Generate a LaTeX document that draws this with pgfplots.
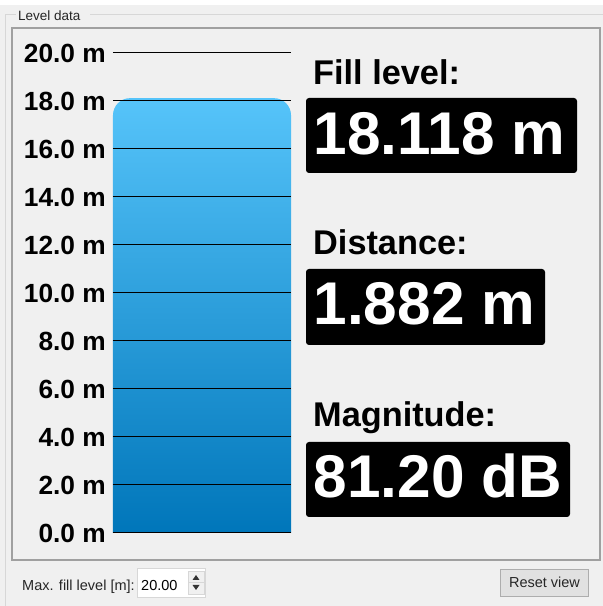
\documentclass[border=0pt]{standalone}
\usepackage{fontspec}
\setmainfont{Liberation Sans}
\usepackage{pgfplots}
\pgfplotsset{compat=1.18}
\definecolor{bg}{RGB}{240,240,240}
\definecolor{bartop}{RGB}{86,196,250}
\definecolor{barbot}{RGB}{0,118,186}
\definecolor{framegray}{RGB}{160,160,160}
\definecolor{lightline}{RGB}{215,215,215}
\begin{document}
\begin{tikzpicture}[x=1pt,y=1pt]
\useasboundingbox (0,0) rectangle (603,606);
\fill[bg] (0,0) rectangle (603,606);
\fill[white] (0,601) rectangle (603,606);
% outer group box
\draw[lightline, line width=1] (5,0) -- (5,591) -- (16,591);
\draw[lightline, line width=1] (90,591) -- (603,591);
\node[anchor=base west, inner sep=0, font=\fontsize{13.5}{15}\selectfont, text=black!85] at (18,585) {Level data};
% inner frame
\draw[framegray, line width=1.3] (12,46) rectangle (600,578);

\begin{axis}[
  at={(113pt,73pt)}, anchor=south west,
  scale only axis, width=178pt, height=480pt,
  xmin=0, xmax=1, ymin=0, ymax=20,
  xtick=\empty,
  ytick={0,2,...,20},
  ymajorgrids,
  grid style={black, line width=1.0pt},
  axis line style={draw=none},
  major tick style={draw=none},
  axis on top,
  clip=false,
  /pgf/number format/assume math mode=true,
  yticklabel={\pgfmathprintnumber[fixed,fixed zerofill,precision=1]{\tick}~m},
  yticklabel style={font=\fontsize{26.3}{29}\selectfont\bfseries, inner sep=0pt, xshift=-7pt},
]
\addplot[draw=none, top color=bartop, bottom color=barbot, rounded corners=17pt]
  coordinates {(0,0) (0,18.118) (1,18.118) (1,0)};
\end{axis}

% readouts
\node[anchor=base west, inner sep=0, font=\fontsize{34.3}{37}\selectfont\bfseries] at (313,521) {Fill level:};
\fill[black, rounded corners=3pt] (306,433) rectangle (577,508);
\node[anchor=base west, inner sep=0, text=white, font=\fontsize{60.3}{64}\selectfont\bfseries] at (313.5,451) {18.118 m};

\node[anchor=base west, inner sep=0, font=\fontsize{34.3}{37}\selectfont\bfseries] at (313,351) {Distance:};
\fill[black, rounded corners=3pt] (306,261) rectangle (545,337);
\node[anchor=base west, inner sep=0, text=white, font=\fontsize{60.3}{64}\selectfont\bfseries] at (313.5,281) {1.882 m};

\node[anchor=base west, inner sep=0, font=\fontsize{34.3}{37}\selectfont\bfseries] at (313,179) {Magnitude:};
\fill[black, rounded corners=3pt] (306,89) rectangle (570,164);
\node[anchor=base west, inner sep=0, text=white, font=\fontsize{60.3}{64}\selectfont\bfseries] at (313.5,108) {81.20 dB};

% bottom controls
\node[anchor=base west, inner sep=0, font=\fontsize{14.5}{16}\selectfont, text=black!85] at (22,16) {Max. fill level [m]:};
\draw[fill=white, draw=lightline] (137.5,8.5) rectangle (205.5,38);
\node[anchor=base west, inner sep=0, font=\fontsize{14.5}{16}\selectfont] at (141,16) {20.00};
\draw[fill=bg, draw=lightline] (188,12) rectangle (204,35);
\draw[lightline] (188,23.5) -- (204,23.5);
\fill[black!80] (192.5,26) -- (199.5,26) -- (196,31) -- cycle;
\fill[black!80] (192.5,21) -- (199.5,21) -- (196,16) -- cycle;
\draw[fill={rgb,255:red,225;green,225;blue,225}, draw={rgb,255:red,173;green,173;blue,173}] (500.5,10) rectangle (588.5,37);
\node[inner sep=0, font=\fontsize{14.5}{16}\selectfont, text=black!85] at (544.5,23.5) {Reset view};
\end{tikzpicture}
\end{document}
